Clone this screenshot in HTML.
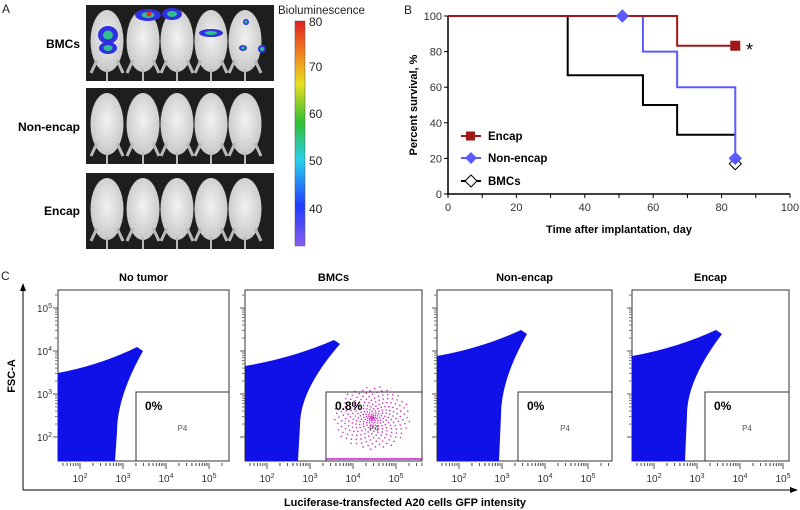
<!DOCTYPE html>
<html><head><meta charset="utf-8"><style>
body{margin:0;background:#fff;}
svg{display:block;font-family:"Liberation Sans",Arial,sans-serif;}
</style></head><body>
<svg id="fig" width="800" height="510" viewBox="0 0 800 510">
<!-- Panel A -->
<g id="panelA">
<text x="2" y="13" font-size="12" fill="#222">A</text>
<text x="80" y="48" font-size="12" font-weight="bold" text-anchor="end">BMCs</text>
<text x="80" y="131" font-size="12" font-weight="bold" text-anchor="end">Non-encap</text>
<text x="80" y="215" font-size="12" font-weight="bold" text-anchor="end">Encap</text>
<text x="278" y="14" font-size="11.5" fill="#222">Bioluminescence</text>
<defs><linearGradient id="cb" x1="0" y1="1" x2="0" y2="0">
<stop offset="0" stop-color="#8a5cf0"/><stop offset="0.18" stop-color="#1e3cff"/><stop offset="0.38" stop-color="#2ad0f0"/><stop offset="0.55" stop-color="#30c030"/><stop offset="0.72" stop-color="#e8e020"/><stop offset="0.86" stop-color="#f08020"/><stop offset="1" stop-color="#e02020"/></linearGradient>
<radialGradient id="mouse" cx="0.5" cy="0.45" r="0.6"><stop offset="0" stop-color="#f2f2f2"/><stop offset="1" stop-color="#c4c4c4"/></radialGradient></defs>
<rect x="295" y="21" width="10" height="225" fill="url(#cb)" stroke="#555" stroke-width="0.5"/>
<g font-size="12" fill="#222">
<text x="309" y="26">80</text><text x="309" y="71">70</text><text x="309" y="118">60</text><text x="309" y="165">50</text><text x="309" y="213">40</text></g>
<g id="mice"></g>
</g>
<!-- Panel B -->
<g id="panelB">
<text x="404" y="14" font-size="12" fill="#222">B</text>
<g id="bAxes"></g><g id="bSeries"></g>
<text x="619" y="233" font-size="11" font-weight="bold" text-anchor="middle">Time after implantation, day</text>
<text transform="translate(417,105) rotate(-90)" font-size="11" font-weight="bold" text-anchor="middle">Percent survival, %</text>
<text x="746" y="56" font-size="18">*</text>
<g>
<g><line x1="461" y1="136" x2="481" y2="136" stroke="#a01818" stroke-width="2"/><rect x="466" y="131.5" width="9" height="9" fill="#a01818"/><text x="488" y="140" font-size="11.5" font-weight="bold">Encap</text></g>
<g><line x1="461" y1="158" x2="481" y2="158" stroke="#5a5aff" stroke-width="2"/><path d="M471 152 L477 158 L471 164 L465 158Z" fill="#5a5aff"/><text x="488" y="162" font-size="11.5" font-weight="bold">Non-encap</text></g>
<g><line x1="461" y1="181" x2="481" y2="181" stroke="#000" stroke-width="2"/><path d="M471 175 L477 181 L471 187 L465 181Z" fill="#fff" stroke="#000"/><text x="488" y="185" font-size="11.5" font-weight="bold">BMCs</text></g>
</g>
</g>
<!-- Panel C -->
<g id="panelC">
<text x="1" y="280" font-size="12" fill="#222">C</text>
<line x1="23" y1="289" x2="23" y2="490" stroke="#000"/>
<path d="M23 283 L20 291 L26 291Z"/>
<line x1="23" y1="490" x2="792" y2="490" stroke="#000"/>
<path d="M798 490 L790 487 L790 493Z"/>
<text transform="translate(15,376) rotate(-90)" font-size="11" font-weight="bold" text-anchor="middle">FSC-A</text>
<text x="405" y="506" font-size="11" font-weight="bold" text-anchor="middle">Luciferase-transfected A20 cells GFP intensity</text>
<g id="flow"></g>
</g>
</svg>
<script>
// ---- Panel B data ----
var encapT=[0,67,84], encapS=[100,83.3,83.3];
var nonT=[0,57,67,84,84], nonS=[100,80,60,60,20];
var bmcT=[0,35,57,67,84], bmcS=[100,66.7,50,33.3,33.3];
var xTicks=[0,20,40,60,80,100], yTicks=[0,20,40,60,80,100];
var NS='http://www.w3.org/2000/svg';
function mk(tag,attrs,parent){var e=document.createElementNS(NS,tag);for(var k in attrs)e.setAttribute(k,attrs[k]);parent.appendChild(e);return e;}
function bx(t){return 448+t*3.42;}
function by(v){return 194-v*1.78;}
var ax=document.getElementById('bAxes');
var yl=mk('line',{x1:bx(0),y1:by(0)+1,x2:bx(0),y2:by(100),stroke:'#000','stroke-width':1.5},ax);


var xl=mk('line',{x1:bx(0)-1,y1:by(0),x2:bx(100),y2:by(0),stroke:'#000','stroke-width':1.5},ax);


yTicks.forEach(function(v){mk('line',{x1:bx(0)-4,y1:by(v),x2:bx(0),y2:by(v),stroke:'#000'},ax);
var t=mk('text',{x:bx(0)-6,y:by(v)+4,'font-size':11,'text-anchor':'end',fill:'#333'},ax);t.textContent=v;

});
for(var m=0;m<=100;m+=10){mk('line',{x1:bx(m),y1:by(0),x2:bx(m),y2:by(0)+4,stroke:'#000'},ax);}
xTicks.forEach(function(v){var t=mk('text',{x:bx(v),y:by(0)+17,'font-size':11,'text-anchor':'middle',fill:'#333'},ax);t.textContent=v;

});
function step(T,S){var d='M'+bx(T[0])+' '+by(S[0]);for(var i=1;i<T.length;i++){d+=' L'+bx(T[i])+' '+by(S[i-1])+' L'+bx(T[i])+' '+by(S[i]);}return d;}
var bs=document.getElementById('bSeries');
var l1=mk('path',{d:step(bmcT,bmcS),fill:'none',stroke:'#000','stroke-width':2},bs);


var l2=mk('path',{d:step(nonT,nonS),fill:'none',stroke:'#5a5aff','stroke-width':2},bs);


var l3=mk('path',{d:step(encapT,encapS),fill:'none',stroke:'#a01818','stroke-width':2},bs);


function dia(x,y,fill,stroke,p){return mk('path',{d:'M'+x+' '+(y-6)+' L'+(x+6)+' '+y+' L'+x+' '+(y+6)+' L'+(x-6)+' '+y+'Z',fill:fill,stroke:stroke},p);}
var mk1=dia(bx(51),by(100),'#5a5aff','#5a5aff',bs);


var mk2=dia(bx(84),by(17),'#fff','#000',bs);


var mk3=dia(bx(84),by(20),'#5a5aff','#5a5aff',bs);


var mk4=mk('rect',{x:bx(84)-5,y:by(83.3)-5,width:10,height:10,fill:'#a01818'},bs);



// ---- Panel A mice ----
var mice=document.getElementById('mice');
var rowsY=[5,88,173];
rowsY.forEach(function(y0,r){
var bg=mk('rect',{x:86,y:y0,width:188,height:76,fill:'#1e1e1e'},mice);


[107,143,177,211,245].forEach(function(cx){
mk('ellipse',{cx:cx,cy:y0+36,rx:16.5,ry:31,fill:'url(#mouse)'},mice);
mk('line',{x1:cx-10,y1:y0+55,x2:cx-16,y2:y0+68,stroke:'#bbb','stroke-width':3},mice);
mk('line',{x1:cx+10,y1:y0+55,x2:cx+16,y2:y0+68,stroke:'#bbb','stroke-width':3},mice);
mk('line',{x1:cx,y1:y0+64,x2:cx,y2:y0+76,stroke:'#bbb','stroke-width':2},mice);});
});
var spots=[[108,35,10,9],[108,48,9,6],[148,15,13,6],[172,14,10,6],[211,33,12,4],[262,49,4,4],[246,22,3,3],[243,48,4,3]];
spots.forEach(function(s){mk('ellipse',{cx:s[0],cy:s[1],rx:s[2],ry:s[3],fill:'#3030e0'},mice);
mk('ellipse',{cx:s[0],cy:s[1],rx:s[2]*0.5,ry:s[3]*0.5,fill:'#30c090'},mice);});
mk('circle',{cx:149,cy:14,r:2.5,fill:'#e03020'},mice);

// ---- Panel C flow ----
var panels=[{x:58,w:171,t:'No tumor',gx:136,top:[143,347],br:113,label:'0%'},
{x:245,w:177,t:'BMCs',gx:326,top:[340,340],br:296,label:'0.8%'},
{x:437,w:175,t:'Non-encap',gx:518,top:[527,330],br:497,label:'0%'},
{x:632,w:157,t:'Encap',gx:705,top:[722,330],br:683,label:'0%'}];
var fl=document.getElementById('flow');
panels.forEach(function(p,i){
var g=mk('g',{},fl);


var t=mk('text',{x:p.x+p.w/2,y:281,'font-size':11,'font-weight':'bold','text-anchor':'middle'},g);t.textContent=p.t;


mk('rect',{x:p.x,y:290,width:p.w,height:171,fill:'#fff',stroke:'#333'},g);
var L=p.x,B=461,tx=p.top[0],ty=p.top[1];
var d='M'+L+' '+B+' L'+L+' '+(ty+26)+' Q'+(L+(tx-L)*0.5)+' '+(ty+18)+' '+(tx-6)+' '+ty+' L'+tx+' '+(ty+4)+' Q'+(p.br+4)+' '+(ty+50)+' '+(p.br+4)+' '+(ty+85)+' L'+(p.br+2)+' '+B+'Z';
var blob=mk('path',{d:d,fill:'#1010e8'},g);


if(i==1){for(var k=0;k<260;k++){var a=k*2.39996,rr=Math.pow(k/260,0.8)*32;mk('circle',{cx:372+rr*Math.cos(a)*1.2,cy:418+rr*Math.sin(a),r:0.8,fill:'#d030c0'},g);}
mk('line',{x1:p.gx,y1:459,x2:p.x+p.w,y2:459,stroke:'#e050e0','stroke-width':2},g);}
var gate=mk('rect',{x:p.gx,y:392,width:p.x+p.w-p.gx,height:69,fill:'none',stroke:'#333'},g);


var pl=mk('text',{x:p.gx+9,y:410,'font-size':12,'font-weight':'bold'},g);pl.textContent=p.label;


var p4=mk('text',{x:p.gx+(p.x+p.w-p.gx)/2,y:431,'font-size':8,fill:'#555','text-anchor':'middle'},g);p4.textContent='P4';
var x2=p.x+22,dec=43;
for(var e=0;e<4;e++){var xx=x2+e*dec;var tl=mk('text',{x:xx,y:482,'font-size':10,'text-anchor':'middle',fill:'#333'},g);tl.innerHTML='10<tspan dy="-4" font-size="7">'+(e+2)+'</tspan>';
for(var s=-1;s<1;s++)for(var m=2;m<=9;m++){var mx=xx+s*dec+Math.log10(m)*dec;if(mx>p.x+2&&mx<p.x+p.w)mk('line',{x1:mx,y1:463,x2:mx,y2:466,stroke:'#555'},g);}
mk('line',{x1:xx,y1:463,x2:xx,y2:469,stroke:'#555'},g);
var yy=437-e*43;mk('line',{x1:p.x-5,y1:yy,x2:p.x,y2:yy,stroke:'#555'},g);
for(var m2=2;m2<=9;m2++){var my=yy-Math.log10(m2)*43;if(my>292)mk('line',{x1:p.x-3,y1:my,x2:p.x,y2:my,stroke:'#777'},g);}
if(i==0){var yt=mk('text',{x:p.x-6,y:yy+4,'font-size':10,'text-anchor':'end',fill:'#333'},g);yt.innerHTML='10<tspan dy="-4" font-size="7">'+(e+2)+'</tspan>';}}
});
</script>
</body></html>
